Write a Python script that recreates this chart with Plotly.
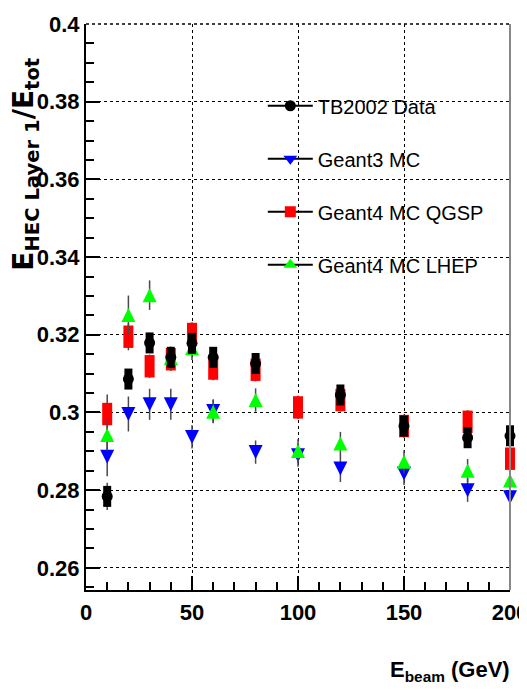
import plotly.graph_objects as go

# ---- data ----
energy = [10, 20, 30, 40, 50, 60, 80, 100, 120, 150, 180, 200]

tb2002 = [0.2784, 0.3086, 0.3179, 0.3142, 0.3178, 0.3142, 0.3126, None, 0.3045, 0.2965, 0.2935, 0.2940]
tb2002_err = [0.0035, 0.0025, 0.0025, 0.0025, 0.0025, 0.0025, 0.0025, None, 0.002, 0.002, 0.002, 0.002]

geant3 = [0.2886, 0.2996, 0.3021, 0.3021, 0.2937, 0.3004, 0.2898, 0.2890, 0.2856, 0.2843, 0.2800, 0.2782]
geant3_err = [0.005, 0.0045, 0.004, 0.004, 0.003, 0.003, 0.003, 0.003, 0.0035, 0.003, 0.003, 0.003]

qgsp = [0.2996, 0.3195, 0.3119, 0.3137, 0.3202, 0.3113, 0.3110, 0.3013, 0.3032, 0.2965, 0.2976, 0.2881]
qgsp_err = [0.005, 0.0035, 0.003, 0.003, 0.003, 0.003, 0.003, 0.003, 0.003, 0.003, 0.003, 0.003]

lhep = [0.2942, 0.3251, 0.3302, 0.3140, 0.3165, 0.3002, 0.3032, 0.2901, 0.2920, 0.2873, 0.2850, 0.2825]
lhep_err = [0.004, 0.005, 0.0038, 0.003, 0.003, 0.003, 0.003, 0.003, 0.003, 0.003, 0.003, 0.003]

legend_names = ["TB2002 Data", "Geant3 MC", "Geant4 MC QGSP", "Geant4 MC LHEP"]

SANS = "Liberation Sans, Arial, sans-serif"
ERRC = "#4a4a4a"

def err(a):
    return dict(type="data", array=a, width=0, thickness=1.5, color=ERRC)

fig = go.Figure()

# draw order: blue, red, green, black on top
fig.add_trace(go.Scatter(x=energy, y=geant3, mode="markers", showlegend=False, cliponaxis=False,
                         error_y=err(geant3_err),
                         marker=dict(symbol="arrow-down", angle=0, standoff=7, size=14,
                                     color="#0000ff", line=dict(width=0))))
fig.add_trace(go.Scatter(x=energy, y=qgsp, mode="markers", showlegend=False, cliponaxis=False,
                         error_y=err(qgsp_err),
                         marker=dict(symbol="line-ns", size=16, color="#ff0000",
                                     line=dict(width=10, color="#ff0000"))))
fig.add_trace(go.Scatter(x=energy, y=lhep, mode="markers", showlegend=False, cliponaxis=False,
                         error_y=err(lhep_err),
                         marker=dict(symbol="arrow-down", angle=180, standoff=7, size=14,
                                     color="#00ff00", line=dict(width=0))))
fig.add_trace(go.Scatter(x=energy, y=tb2002, mode="markers", showlegend=False, cliponaxis=False,
                         error_y=err(tb2002_err),
                         marker=dict(symbol="line-ns", size=15, color="black",
                                     line=dict(width=8, color="black"))))
fig.add_trace(go.Scatter(x=energy, y=tb2002, mode="markers", showlegend=False, cliponaxis=False,
                         marker=dict(symbol="circle", size=11, color="black",
                                     line=dict(width=0))))

# legend entries
leg_markers = [
    dict(symbol="circle", size=11, color="black"),
    dict(symbol="triangle-down", size=12, color="#0000ff"),
    dict(symbol="square", size=11, color="#ff0000"),
    dict(symbol="triangle-up", size=12, color="#00ff00"),
]
for i, (nm, mk) in enumerate(zip(legend_names, leg_markers)):
    fig.add_trace(go.Scatter(x=[None], y=[None], mode="lines+markers", name=nm,
                             legendgroup=f"g{i}",
                             line=dict(color="black", width=2),
                             marker=dict(line=dict(width=0), **mk)))

fig.update_layout(
    width=519, height=681,
    margin=dict(l=78, r=17, t=16, b=99),
    paper_bgcolor="white", plot_bgcolor="white",
    showlegend=True,
    legend=dict(x=0.417, y=0.89, xanchor="left", yanchor="top",
                bgcolor="rgba(0,0,0,0)", borderwidth=0,
                font=dict(family=SANS, size=20, color="black"),
                tracegroupgap=24, itemwidth=45),
    xaxis=dict(range=[0, 200], tick0=0, dtick=50, ticks="inside", ticklen=14,
               tickwidth=1.5, tickcolor="black", automargin=False, ticklabelstandoff=2,
               ticklabeloverflow="allow",
               minor=dict(dtick=10, ticks="inside", ticklen=8, tickwidth=1.5, tickcolor="black"),
               showgrid=True, gridcolor="black", griddash="dot", gridwidth=1,
               showline=True, linecolor="black", linewidth=2, zeroline=False,
               tickfont=dict(family=SANS, size=22, color="black", weight="bold")),
    yaxis=dict(range=[0.2543, 0.4], tick0=0, dtick=0.02, tickformat=".2~f",
               ticks="inside", ticklen=14, tickwidth=1.5, tickcolor="black", automargin=False,
               ticklabeloverflow="allow",
               minor=dict(dtick=0.005, ticks="inside", ticklen=8, tickwidth=1.5, tickcolor="black"),
               showgrid=True, gridcolor="black", griddash="dot", gridwidth=1,
               showline=True, linecolor="black", linewidth=2, zeroline=False,
               tickfont=dict(family=SANS, size=22, color="black", weight="bold")),
    shapes=[dict(type="line", xref="paper", yref="paper", x0=1, x1=1, y0=0, y1=1,
                 line=dict(color="#888888", width=2)),
            dict(type="line", xref="paper", yref="paper", x0=0, x1=1, y0=1, y1=1,
                 line=dict(color="black", width=1.5, dash="dot"))],
    annotations=[
        dict(text="E<sub>HEC Layer 1</sub>/E<sub>tot</sub>", textangle=-90,
             xref="paper", yref="paper", x=-0.143, y=0.752, xanchor="center", yanchor="middle",
             showarrow=False,
             font=dict(family="DejaVu Sans, sans-serif", size=28, color="black", weight="bold")),
        dict(text="E<sub>beam</sub> (GeV)", xref="paper", yref="paper", x=1.005, y=-0.172,
             xanchor="right", yanchor="bottom", showarrow=False,
             font=dict(family=SANS, size=22, color="black", weight="bold")),
    ],
)

fig.write_html("out.html")
